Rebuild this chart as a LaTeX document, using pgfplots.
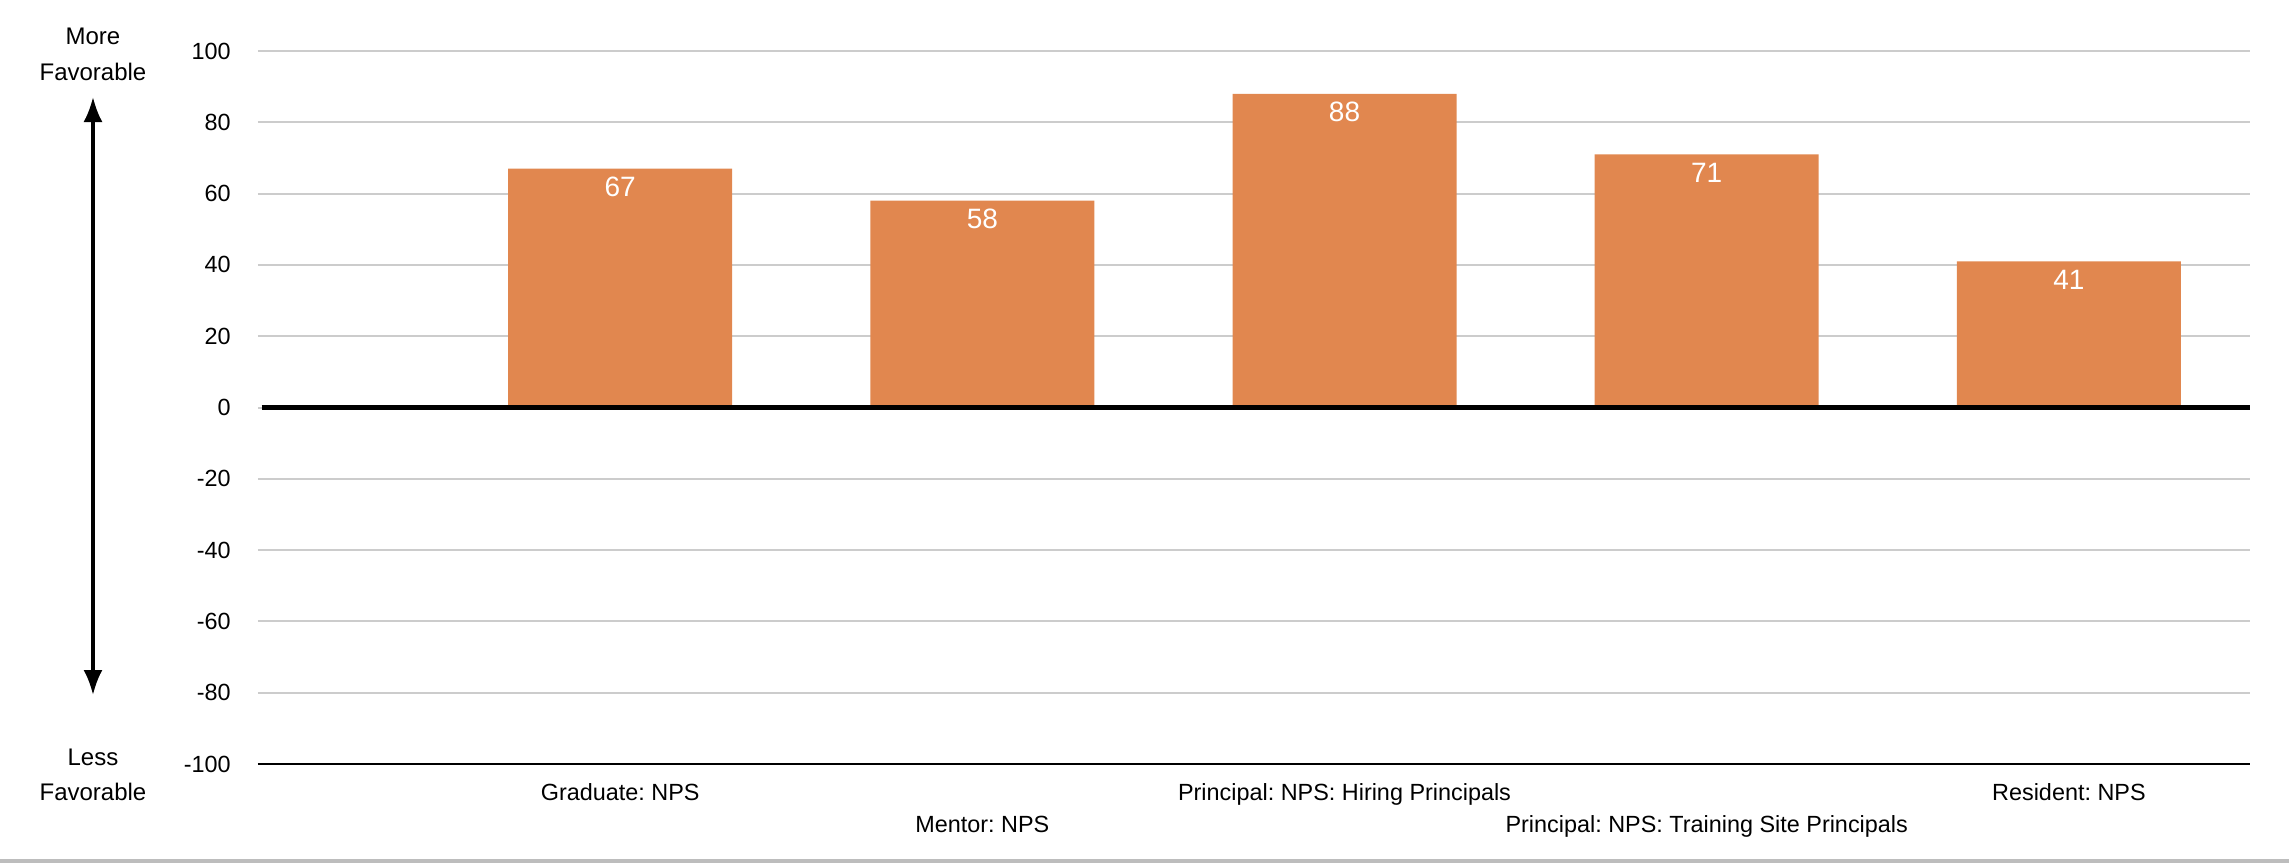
\documentclass[border=0pt]{standalone}
\usepackage{fontspec}
\setmainfont{Liberation Sans}
\usepackage{pgfplots}
\pgfplotsset{compat=1.18}
\usetikzlibrary{arrows.meta}
\definecolor{barorange}{HTML}{E1874F}
\definecolor{gridgray}{HTML}{CCCCCC}
\definecolor{framegray}{HTML}{BDBDBD}
\frenchspacing

\begin{document}
\begin{tikzpicture}
\useasboundingbox (-129pt,-50pt) rectangle (1015.5pt,382pt);
\begin{axis}[
  at={(0,0)}, anchor=south west,
  scale only axis, width=996pt, height=356.5pt,
  ybar, bar width=112pt,
  xmin=-1, xmax=4.5, ymin=-100, ymax=100,
  ytick={-100,-80,...,100},
  xtick={0,2,4},
  xticklabels={Graduate: NPS, Principal: NPS: Hiring Principals, Resident: NPS},
  extra x ticks={1,3},
  extra x tick labels={Mentor: NPS, Principal: NPS: Training Site Principals},
  extra x tick style={xticklabel style={yshift=-16pt}},
  ymajorgrids=true,
  major grid style={gridgray, line width=1pt},
  major tick length=0pt,
  axis line style={draw=none},
  tick label style={font=\fontsize{11.7}{14}\selectfont},
  yticklabel style={anchor=east, inner sep=0pt, xshift=-13.5pt},
  xticklabel style={anchor=base, inner sep=0pt, yshift=-18pt},
  /pgf/number format/assume math mode=true,
  nodes near coords,
  nodes near coords style={anchor=base, inner sep=0pt, yshift=-14pt,
    text=white, font=\fontsize{14}{16}\selectfont},
  clip=false,
]
\addplot[fill=barorange, draw=none] coordinates {(0,67) (1,58) (2,88) (3,71) (4,41)};
% zero baseline and bottom axis line
\draw[black, line width=2.2pt] (axis cs:-0.99,0) -- (axis cs:4.5,0);
\draw[black, line width=1.3pt] (axis cs:-1,-100) -- (axis cs:4.5,-100);
\end{axis}
% favourability scale on the left
\begin{scope}[every node/.style={anchor=base, inner sep=0pt, font=\fontsize{12}{14}\selectfont}]
\node at (-82.5pt,359.5pt) {More};
\node at (-82.5pt,341.5pt) {Favorable};
\node at (-82.5pt,-0.5pt) {Less};
\node at (-82.5pt,-18pt) {Favorable};
\end{scope}
\draw[line width=1.6pt, {Latex[length=12.5pt,width=9.5pt]}-{Latex[length=12.5pt,width=9.5pt]}]
  (-82.5pt,333.5pt) -- (-82.5pt,34.5pt);
\draw[framegray, line width=2pt] (-129pt,-48.25pt) -- (1015.5pt,-48.25pt);
\end{tikzpicture}
\end{document}
